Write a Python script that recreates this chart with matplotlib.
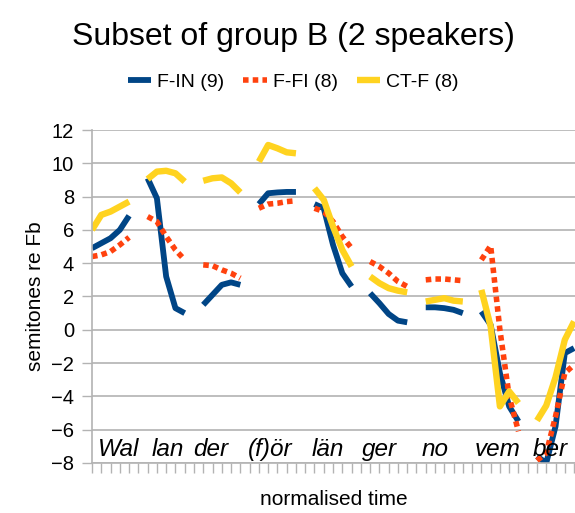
import numpy as np
import matplotlib
matplotlib.use("Agg")
import matplotlib.pyplot as plt

plt.rcParams['font.family'] = ['Liberation Sans', 'DejaVu Sans']

syllables = ["Wal", "lan", "der", "(f)ör", "län", "ger", "no", "vem", "ber"]
syllable_pos = [0.65, 6.45, 10.9, 16.8, 23.7, 29.1, 35.6, 41.3, 47.5]

# 5 points per syllable
f_in = [
    [4.9, 5.2, 5.5, 6.0, 6.85],
    [9.1, 7.9, 3.2, 1.3, 1.0],
    [1.5, 2.1, 2.7, 2.85, 2.7],
    [7.55, 8.2, 8.25, 8.28, 8.28],
    [7.55, 7.3, 5.1, 3.4, 2.6],
    [2.2, 1.6, 0.95, 0.55, 0.45],
    [1.35, 1.35, 1.3, 1.2, 1.0],
    [1.1, 0.3, -2.6, -4.6, -5.5],
    [-7.6, -8.0, -5.8, -1.4, -1.1],
]
f_fi = [
    [4.4, 4.5, 4.7, 5.1, 5.55],
    [6.8, 6.5, 5.6, 4.8, 4.2],
    [3.9, 3.85, 3.6, 3.4, 3.1],
    [7.3, 7.55, 7.6, 7.7, 7.75],
    [7.3, 7.1, 6.5, 5.6, 4.9],
    [4.1, 3.8, 3.4, 2.9, 2.6],
    [3.0, 3.05, 3.05, 3.0, 2.95],
    [4.2, 5.05, 0.0, -4.0, -6.1],
    [-7.85, -7.4, -5.2, -2.6, -2.1],
]
ct_f = [
    [6.0, 6.9, 7.1, 7.4, 7.7],
    [9.05, 9.5, 9.55, 9.4, 8.9],
    [8.95, 9.1, 9.15, 8.8, 8.25],
    [10.1, 11.1, 10.9, 10.66, 10.6],
    [8.5, 7.8, 6.2, 4.8, 3.8],
    [3.2, 2.8, 2.5, 2.35, 2.25],
    [1.7, 1.8, 1.9, 1.75, 1.7],
    [2.4, 0.2, -4.6, -3.7, -4.4],
    [-5.45, -4.55, -2.85, -0.6, 0.5],
]


def with_gaps(segments):
    out = []
    for i, seg in enumerate(segments):
        out += seg
        if i < len(segments) - 1:
            out.append(np.nan)
    return np.array(out)


series = [
    ("F-IN (9)", f_in, "#004586", "-", 4.2),
    ("F-FI (8)", f_fi, "#ff420e", (0, (1.0, 0.75)), 4.0),
    ("CT-F (8)", ct_f, "#ffd320", "-", 4.6),
]

fig = plt.figure(figsize=(5.75, 5.13), dpi=100)
ax = fig.add_axes([92 / 575, 50 / 513, 483 / 575, 333 / 513])

for label, segs, color, ls, lw in series:
    y = with_gaps(segs)
    x = np.arange(len(y))
    ax.plot(x, y, color=color, linestyle=ls, linewidth=lw, label=label,
            solid_capstyle='butt', dash_capstyle='butt', solid_joinstyle='round')

ax.set_xlim(0, 52.1)
ax.set_ylim(-8, 12)
ax.set_yticks(np.arange(-8, 13, 2))
ax.set_xticks(np.arange(0, 53))
ax.set_xticklabels([])
ax.tick_params(axis='y', labelsize=14.5, length=7, color='#b3b3b3', width=1, pad=6)
ax.tick_params(axis='x', length=7, color='#b3b3b3', width=1)
ax.grid(axis='y', color='#b3b3b3', linewidth=1.2)
ax.set_axisbelow(True)
for s in ['top', 'right']:
    ax.spines[s].set_visible(False)
for s in ['left', 'bottom']:
    ax.spines[s].set_color('#b3b3b3')
    ax.spines[s].set_linewidth(1.2)

for syl, pos in zip(syllables, syllable_pos):
    ax.text(pos, -7.55, syl, fontsize=17.5, style='italic', va='baseline', ha='left')

ax.set_ylabel("semitones re Fb", fontsize=15, labelpad=4)
ax.set_xlabel("normalised time", fontsize=15, labelpad=9)

fig.text(0.51, 0.928, "Subset of group B (2 speakers)", fontsize=23, ha='center', va='center')
fig.legend(loc='center', bbox_to_anchor=(0.51, 0.84), ncol=3, frameon=False,
           fontsize=14, handlelength=1.2, handletextpad=0.3, columnspacing=1.0)

fig.savefig("out.png", dpi=100)
